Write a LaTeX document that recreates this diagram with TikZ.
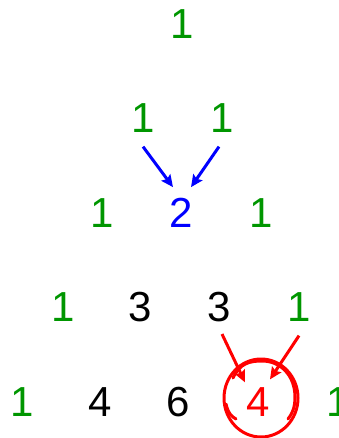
\documentclass[tikz,border=0pt]{standalone}
\usepackage{fontspec}
\setmainfont{Liberation Sans}
\usetikzlibrary{arrows.meta,calc}
\definecolor{pgreen}{RGB}{0,150,0}
\definecolor{pblue}{RGB}{0,0,255}
\definecolor{pred}{RGB}{255,0,0}
\begin{document}
\begin{tikzpicture}[x=1pt,y=-1pt,
  num/.style={inner sep=0pt,font=\fontsize{42}{42}\selectfont},
  g/.style={num,text=pgreen},
  k/.style={num,text=black},
  arrb/.style={draw=pblue,line width=3pt,-{Stealth[length=12pt,width=11pt,inset=2pt]}},
  arrr/.style={draw=pred,line width=3pt,-{Stealth[length=12pt,width=11pt,inset=2pt]}},
  loop/.style={draw=pred,line width=3pt,line cap=round}]
\useasboundingbox (0,0) rectangle (339,438);
\clip (0,0) rectangle (339,438);
% row 0
\node[g] (a0) at (182,24) {1};
% row 1
\node[g] (b0) at (143,118) {1};
\node[g] (b1) at (222,118) {1};
% row 2
\node[g] (c0) at (102,213) {1};
\node[num,text=pblue] (c1) at (181,213) {2};
\node[g] (c2) at (261,213) {1};
% row 3
\node[g] (d0) at (63,307) {1};
\node[k] (d1) at (140,307) {3};
\node[k] (d2) at (219,307) {3};
\node[g] (d3) at (299,307) {1};
% row 4
\node[g] (e0) at (22,402) {1};
\node[k] (e1) at (100,402) {4};
\node[k] (e2) at (178,402) {6};
\node[num,text=pred] (e3) at (258,402) {4};
\node[g] (e4) at (338,402) {1};
% blue arrows
\draw[arrb] ($(b0.south)+(0,14)$) -- ($(c1.north)+(-8,-11)$);
\draw[arrb] ($(b1.south)+(-3,14)$) -- ($(c1.north)+(10,-11)$);
% red arrows
\draw[arrr] ($(d2.south)+(3,12)$) -- ($(e3.north)+(-13,-5)$);
\draw[arrr] ($(d3.south)+(0,14)$) -- ($(e3.north)+(12,-8)$);
% hand-drawn circle
\draw[loop] (261,398) ellipse [x radius=37pt, y radius=39pt];
\draw[loop] (233,378) .. controls (240,363) and (250,361) .. (262,361)
  .. controls (281,361) and (295,376) .. (295,397)
  .. controls (295,408) and (292,414) .. (288,419);
\draw[loop] (226,404) .. controls (228,413) and (232,417) .. (236,419);
\end{tikzpicture}
\end{document}
